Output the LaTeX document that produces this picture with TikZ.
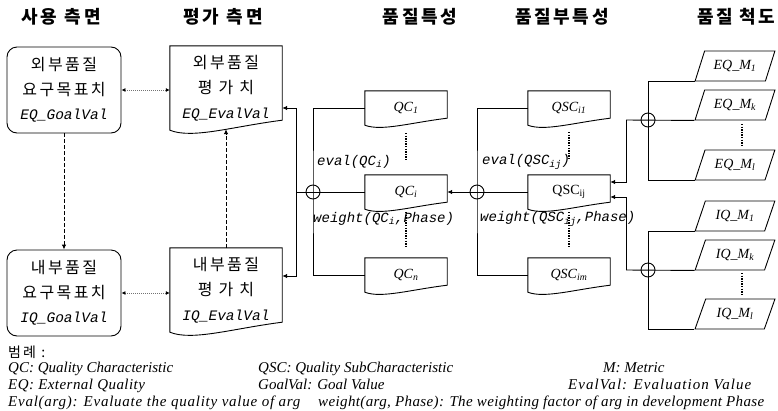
\documentclass[tikz,border=0pt]{standalone}
\usepackage{fontspec}
\setmainfont{Liberation Serif}
\newfontfamily\krf{Noto Sans CJK KR}[LetterSpace=15]
\newfontfamily\krh{Noto Sans CJK KR}[LetterSpace=15]
\newfontfamily\monof{Liberation Mono}
\usetikzlibrary{shapes.geometric,arrows.meta,calc}
\tikzset{
 ln/.style={draw=black, line width=0.9pt},
 arrtip/.style={-{Latex[length=5pt,width=4.5pt]}},
 dbl/.style={{Latex[length=4pt,width=4pt,color=black]}-{Latex[length=4pt,width=4pt,color=black]}, draw=black!55, line width=0.8pt, dash pattern=on 1pt off 1pt},
 dsh/.style={-{Latex[length=5pt,width=4.5pt]}, line width=0.9pt, dash pattern=on 3.5pt off 2.5pt},
 vdots/.style={line width=2.3pt, dash pattern=on 1.3pt off 1.3pt},
 goal/.style={draw, line width=0.9pt, rounded corners=10pt, minimum width=114pt, minimum height=86pt, align=center, font=\fontsize{16}{24.5}\selectfont, inner sep=0pt},
 docn/.style={minimum width=112pt, minimum height=84pt, inner sep=0pt, align=center, font=\fontsize{16}{25}\selectfont},
 qcn/.style={minimum width=82pt, minimum height=34pt, inner sep=0pt, font=\fontsize{14}{14}\selectfont\itshape},
 met/.style={trapezium, trapezium left angle=60, trapezium right angle=120, trapezium stretches=true, draw, line width=0.9pt, minimum width=80pt, minimum height=30pt, inner sep=0pt, font=\fontsize{14}{14}\selectfont\itshape},
 plus/.style={circle, draw, line width=0.9pt, minimum size=14pt, inner sep=0pt},
 lbl/.style={font=\monof\itshape\fontsize{14}{14}\selectfont, inner sep=0pt, anchor=west},
 hd/.style={font=\krh\bfseries\fontsize{18}{18}\selectfont, inner sep=0pt},
 leg/.style={font=\fontsize{15}{15}\selectfont\itshape, inner sep=0pt, anchor=base west},
}
\newcommand\docoutline[2]{%
  \draw[ln] (#1.north west) -- (#1.north east) -- ($(#1.south east)+(0pt,#2)$)
   .. controls ($(#1.south west)!0.55!(#1.south east)+(0pt,0.35*#2)$) and ($(#1.south west)!0.2!(#1.south east)+(0pt,-0.9*#2)$) .. (#1.south west) -- cycle;}
\newcommand\sbs[1]{\textsubscript{#1}}
\newcommand\lsp[1]{\addfontfeature{LetterSpace=#1}}
\begin{document}
\begin{tikzpicture}[x=1pt,y=-1pt]
\fill[white] (0,0) rectangle (778,410);
\useasboundingbox (0,0) rectangle (778,410);
% headers
\node[hd] (h1) at (61,17) {사용\hspace{8pt}측면};
\node[hd] (h2) at (223,17) {평가\hspace{8pt}측면};
\node[hd] (h3) at (420,17) {품질특성};
\node[hd] (h4) at (562,17) {품질부특성};
\node[hd] (h5) at (736,17) {품질\hspace{6pt}척도};
% left boxes
\node[goal] (eqg) at (64,90) {{\krf 외부품질}\\{\krf 요구목표치}\\{\monof\itshape\fontsize{14.5}{24.5}\selectfont EQ\_GoalVal}};
\node[goal] (iqg) at (64,293) {{\krf 내부품질}\\{\krf 요구목표치}\\{\monof\itshape\fontsize{14.5}{24.5}\selectfont IQ\_GoalVal}};
\node[docn] (eqe) at (226,88) {{\krf 외부품질}\\{\krf 평\hspace{6pt}가\hspace{6pt}치}\\{\monof\itshape\fontsize{14.5}{25}\selectfont EQ\_EvalVal}};
\docoutline{eqe}{10pt}
\node[docn] (iqe) at (226,290) {{\krf 내부품질}\\{\krf 평\hspace{6pt}가\hspace{6pt}치}\\{\monof\itshape\fontsize{14.5}{25}\selectfont IQ\_EvalVal}};
\docoutline{iqe}{10pt}
% quality characteristics
\node[qcn] (qc1) at (406,108) {QC\sbs{1}};
\docoutline{qc1}{7pt}
\node[qcn] (qci) at (406,192) {QC\sbs{i}};
\docoutline{qci}{7pt}
\node[qcn] (qcn) at (406,275) {QC\sbs{n}};
\docoutline{qcn}{7pt}
\node[qcn] (qsc1) at (569,108) {QSC\sbs{i1}};
\docoutline{qsc1}{7pt}
\node[qcn,font=\fontsize{14}{14}\selectfont\upshape] (qscij) at (569,192) {QSC\sbs{ij}};
\docoutline{qscij}{7pt}
\node[qcn] (qscm) at (569,275) {QSC\sbs{im}};
\docoutline{qscm}{7pt}
% metrics
\node[met] (eqm1) at (735,66) {EQ\_M\sbs{1}};
\node[met] (eqmk) at (735,105) {EQ\_M\sbs{k}};
\node[met] (eqml) at (735,165) {EQ\_M\sbs{l}};
\node[met] (iqm1) at (735,216) {IQ\_M\sbs{1}};
\node[met] (iqmk) at (735,255) {IQ\_M\sbs{k}};
\node[met] (iqml) at (735,314) {IQ\_M\sbs{l}};
% plus circles
\node[plus] (c1) at (313,192) {};
\node[plus] (c2) at (477,192) {};
\node[plus] (ce) at (648,120) {};
\node[plus] (ci) at (648,270) {};
\coordinate (j1) at (296,192);
\coordinate (je) at (626,120);
\coordinate (ji) at (626,270);
% labels
\node[lbl] (ev1) at (317,162) {eval(QC\sbs{i})};
\node[lbl] (w1) at (313,219) {weight(QC\sbs{i},Phase)};
\node[lbl] (ev2) at (482,162) {eval(QSC\sbs{ij})};
\node[lbl] (w2) at (480,219) {weight(QSC\sbs{ij},Phase)};
% vertical dots
\draw[vdots] (406,133) -- (406,160);
\draw[vdots] (406,212) -- (406,248);
\draw[vdots] (569,132) -- (569,160);
\draw[vdots] (569,212) -- (569,248);
\draw[vdots] (742,124) -- (742,146);
\draw[vdots] (742,273) -- (742,294);
% connectors left
\draw[dbl] (eqg.east) -- (eqg.east -| eqe.west);
\draw[dbl] (iqg.east) -- (iqg.east -| iqe.west);
\draw[dsh] (eqg.south) -- (iqg.north);
\draw[dsh] (iqe.north) -- ([yshift=1pt]eqe.south);
\draw[ln] (c1.center) -- (j1);
\draw[ln,arrtip] (j1) |- ([yshift=-20pt]eqe.east);
\draw[ln,arrtip] (j1) |- ([yshift=14pt]iqe.east);
\draw[ln] (qc1.west) -| (c1.center) |- (qcn.west);
\draw[ln] (c1.center) -- (qci.west);
\draw[ln] (qsc1.west) -| (c2.center) |- (qscm.west);
\draw[ln,arrtip] (qscij.west) -- (qci.east);
% connectors right
\draw[ln] (eqm1.bottom left corner) -| (ce.center) |- (eqml.bottom left corner);
\draw[ln] (je) -- (eqmk.bottom left corner);
\draw[ln,arrtip] (je) |- ([yshift=10pt]qscij.east);
\draw[ln] (iqm1.bottom left corner) -| (ci.center) |- (iqml.bottom left corner);
\draw[ln] (ji) -- (iqmk.bottom left corner);
\draw[ln,arrtip] (ji) |- ([yshift=-5pt]qscij.east);
% legend
\node[inner sep=0pt, anchor=west, font=\krf\fontsize{14}{14}\selectfont] (lg) at (8,352) {범례 :};
\node[leg] (l1) at (8,372) {QC: Quality Characteristic};
\node[leg] (l2) at (258,372) {QSC: Quality SubCharacteristic};
\node[leg] (l3) at (603,372) {M: Metric};
\node[leg] (l4) at (8,389) {\lsp{3}EQ: External Quality};
\node[leg] (l5) at (258,389) {GoalVal: Goal Value};
\node[leg] (l6) at (568,389) {\lsp{7}EvalVal: Evaluation Value};
\node[leg] (l7) at (8,406) {\lsp{5}Eval(arg): Evaluate the quality value of arg};
\node[leg] (l8) at (318,406) {\lsp{2.5}weight(arg, Phase): The weighting factor of arg in development Phase};
\end{tikzpicture}
\end{document}
